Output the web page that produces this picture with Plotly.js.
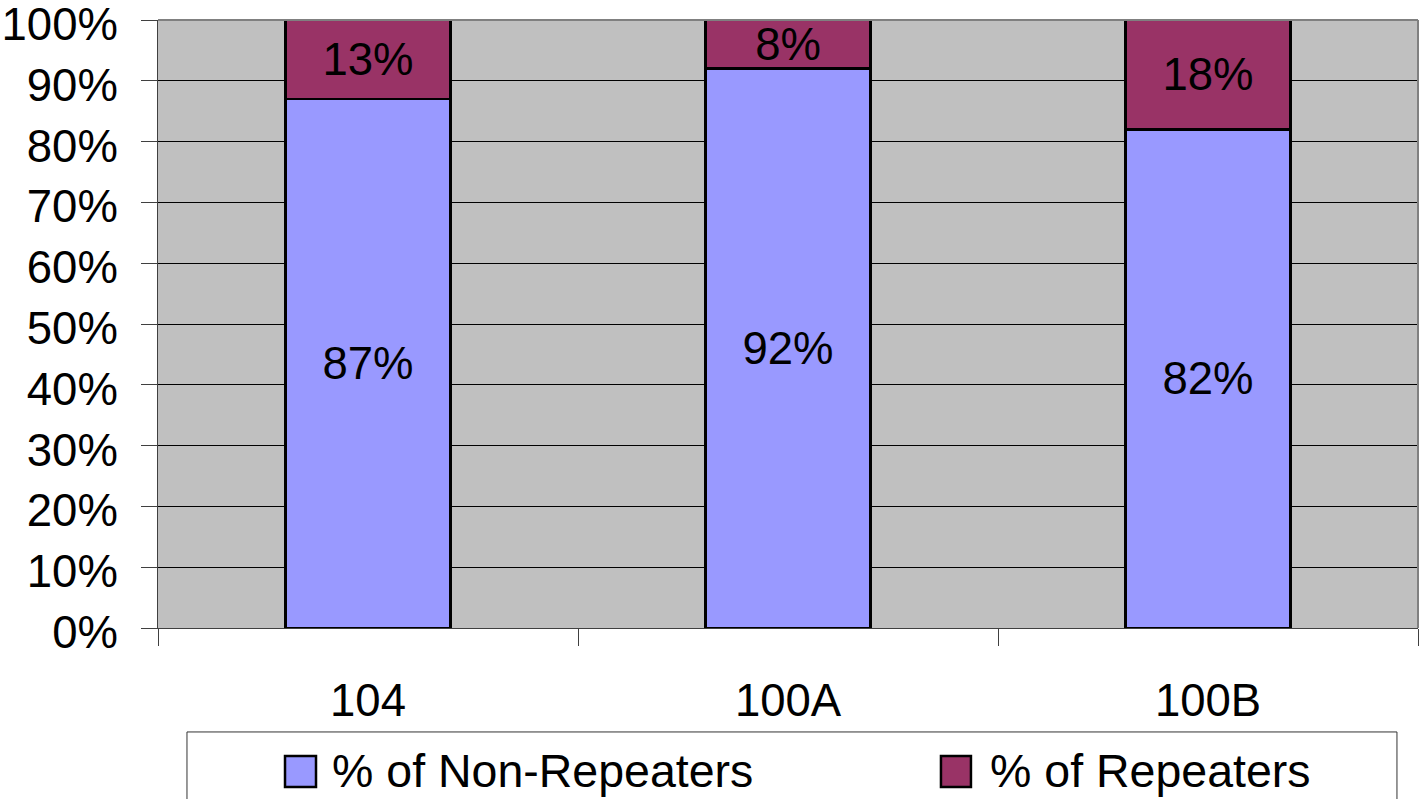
<!DOCTYPE html>
<html>
<head>
<meta charset="utf-8">
<script src="https://cdn.plot.ly/plotly-3.0.1.min.js"></script>
<style>html,body{margin:0;padding:0;background:#fff;}#chart{width:1420px;height:799px;}</style>
</head>
<body>
<div id="chart"></div>
<script>
const categories = ['104', '100A', '100B'];
const nonRepeaters = [87, 92, 82];
const repeaters = [13, 8, 18];
const seriesNames = ['% of Non-Repeaters', '% of Repeaters'];
const seriesColors = ['#9999FF', '#993366'];
const yTickVals = [0, 10, 20, 30, 40, 50, 60, 70, 80, 90, 100];

const FONT = 'Liberation Sans, Arial, sans-serif';
const FS = 45.5;

function barTrace(name, values, color) {
  return {
    type: 'bar',
    name: name,
    x: categories,
    y: values,
    marker: {color: color, line: {color: '#000000', width: 2.5}},
    texttemplate: '%{y}%',
    textposition: 'inside',
    insidetextanchor: 'middle',
    constraintext: 'none',
    textangle: 0,
    textfont: {family: FONT, size: FS, color: '#000000'},
    hoverinfo: 'skip',
    showlegend: false
  };
}

const data = [
  barTrace(seriesNames[0], nonRepeaters, seriesColors[0]),
  barTrace(seriesNames[1], repeaters, seriesColors[1])
];

// manual legend (positions in paper coords)
const legendBox = {type: 'rect', xref: 'paper', yref: 'paper', x0: 0.023, x1: 0.9833, y0: -0.171, y1: -0.36,
  line: {color: '#333333', width: 1}, fillcolor: 'rgba(0,0,0,0)'};
const legendItems = [
  {mx0: 0.1008, mx1: 0.1254, tx: 0.1365},
  {mx0: 0.6214, mx1: 0.6452, tx: 0.6587}
];
const shapes = [legendBox];
const annotations = [];
legendItems.forEach((it, i) => {
  shapes.push({type: 'rect', xref: 'paper', yref: 'paper', x0: it.mx0, x1: it.mx1, y0: -0.2615, y1: -0.2105,
    fillcolor: seriesColors[i], line: {color: '#000000', width: 2.5}});
  annotations.push({xref: 'paper', yref: 'paper', x: it.tx, y: -0.2352, xanchor: 'left', yanchor: 'middle',
    text: seriesNames[i], showarrow: false, font: {family: FONT, size: 46.5, color: '#000000'}});
});
// plot border top/right
shapes.push({type: 'line', xref: 'paper', yref: 'paper', x0: 0, x1: 1, y0: 1, y1: 1, line: {color: '#808080', width: 2}});
shapes.push({type: 'line', xref: 'paper', yref: 'paper', x0: 1, x1: 1, y0: 0, y1: 1, line: {color: '#808080', width: 2}});

const layout = {
  width: 1420,
  height: 799,
  margin: {l: 158, r: 2, t: 20, b: 171},
  paper_bgcolor: '#FFFFFF',
  plot_bgcolor: '#C0C0C0',
  barmode: 'stack',
  bargap: 0.607,
  showlegend: false,
  font: {family: FONT, size: FS, color: '#000000'},
  xaxis: {
    type: 'category',
    tickson: 'boundaries',
    ticks: 'outside',
    ticklen: 17,
    tickwidth: 1,
    tickcolor: '#404040',
    showline: true,
    linecolor: '#404040',
    linewidth: 1,
    showgrid: false,
    ticklabelstandoff: 32,
    tickfont: {family: FONT, size: FS, color: '#000000'},
    fixedrange: true
  },
  yaxis: {
    range: [0, 100],
    tickvals: yTickVals,
    ticktext: yTickVals.map(v => v + '%'),
    ticks: 'outside',
    ticklen: 16,
    tickwidth: 1,
    tickcolor: '#404040',
    showline: true,
    linecolor: '#404040',
    linewidth: 1,
    showgrid: true,
    gridcolor: '#000000',
    gridwidth: 1,
    zeroline: false,
    ticklabelstandoff: 14,
    ticklabelshift: 4,
    ticklabeloverflow: 'allow',
    tickfont: {family: FONT, size: FS, color: '#000000'},
    fixedrange: true
  },
  shapes: shapes,
  annotations: annotations
};

Plotly.newPlot('chart', data, layout, {displayModeBar: false, staticPlot: true});
</script>
</body>
</html>
